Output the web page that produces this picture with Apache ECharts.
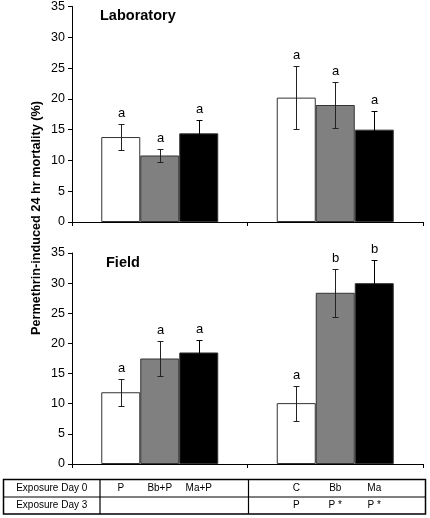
<!DOCTYPE html>
<html><head><meta charset="utf-8">
<script src="https://cdn.jsdelivr.net/npm/echarts@6/dist/echarts.min.js"></script>
<style>html,body{margin:0;padding:0;background:#fff}#c{width:430px;height:518px}</style>
</head><body><div id="c"></div>
<script>
var categories = ['Group 1', 'Group 2'];
var yTicks = [0, 5, 10, 15, 20, 25, 30, 35];
// Laboratory
var labWhite = [13.8, 20.2];
var labGray = [10.8, 19.0];
var labBlack = [14.4, 15.0];
var labWhiteErr = [2.1, 5.1];
var labGrayErr = [1.1, 3.7];
var labBlackErr = [2.2, 3.1];
var labWhiteLet = ['a', 'a'];
var labGrayLet = ['a', 'a'];
var labBlackLet = ['a', 'a'];
// Field
var fieldWhite = [11.9, 10.1];
var fieldGray = [17.5, 28.4];
var fieldBlack = [18.5, 30.0];
var fieldWhiteErr = [2.2, 2.9];
var fieldGrayErr = [2.9, 4.0];
var fieldBlackErr = [2.0, 3.8];
var fieldWhiteLet = ['a', 'a'];
var fieldGrayLet = ['a', 'b'];
var fieldBlackLet = ['a', 'b'];
// Table
var rowHeaders = ['Exposure Day 0', 'Exposure Day 3'];
var day0 = [['P', 'Bb+P', 'Ma+P'], ['C', 'Bb', 'Ma']];
var day3 = [['', '', ''], ['P', 'P *', 'P *']];
var panelTitles = ['Laboratory', 'Field'];
var yTitle = 'Permethrin-induced 24 hr mortality (%)';

var FONT = '"Liberation Sans", Arial, sans-serif';
var BW = 39;
var fills = ['#ffffff', '#808080', '#000000'];

var chart = echarts.init(document.getElementById('c'), null, {renderer: 'canvas'});

function barSeries(data, k, idx) {
  return {
    type: 'bar', xAxisIndex: idx, yAxisIndex: idx, data: data,
    barWidth: BW, barGap: '0%',
    itemStyle: {color: fills[k], borderColor: '#333', borderWidth: 1},
    silent: true, animation: false
  };
}
function errSeries(vals, errs, lets, k, idx) {
  var d = vals.map(function (v, i) { return [i, v, errs[i], lets[i]]; });
  return {
    type: 'custom', xAxisIndex: idx, yAxisIndex: idx, data: d, silent: true, animation: false,
    z: 5,
    renderItem: function (params, api) {
      var c = api.value(0), v = api.value(1), e = api.value(2);
      var hi = api.coord([c, v + e]);
      var lo = api.coord([c, v - e]);
      var x = Math.round(hi[0] + (k - 1) * BW) + 0.5;
      var yh = Math.round(hi[1]) + 0.5, yl = Math.round(lo[1]) + 0.5;
      var s = {stroke: k === 2 ? '#000' : '#222', lineWidth: 1};
      return {type: 'group', children: [
        {type: 'line', shape: {x1: x, y1: yh, x2: x, y2: yl}, style: s},
        {type: 'line', shape: {x1: x - 3, y1: yh, x2: x + 3, y2: yh}, style: s},
        {type: 'line', shape: {x1: x - 3, y1: yl, x2: x + 3, y2: yl}, style: s},
        {type: 'text', x: x, y: yh - 5, style: {text: lets[params.dataIndex], fill: '#000',
          font: '13px ' + FONT, align: 'center', verticalAlign: 'bottom'}}
      ]};
    }
  };
}

function xAx(idx) {
  return {type: 'category', gridIndex: idx, data: categories, boundaryGap: true,
    axisLine: {lineStyle: {color: '#000', width: 1}},
    axisTick: {show: true, length: 4, lineStyle: {color: '#000'}},
    axisLabel: {show: false}, splitLine: {show: false}};
}
function yAx(idx) {
  return {type: 'value', gridIndex: idx, min: yTicks[0], max: yTicks[yTicks.length - 1], interval: 5,
    axisLine: {show: true, lineStyle: {color: '#000', width: 1}},
    axisTick: {show: true, length: 4, lineStyle: {color: '#000'}},
    axisLabel: {color: '#000', fontSize: 12.5, fontFamily: FONT, margin: 7},
    splitLine: {show: false}};
}

chart.setOption({
  animation: false,
  backgroundColor: '#fff',
  grid: [
    {left: 72, right: 7, top: 6, height: 216},
    {left: 72, right: 7, top: 253, height: 211}
  ],
  xAxis: [xAx(0), xAx(1)],
  yAxis: [yAx(0), yAx(1)],
  series: [
    barSeries(labWhite, 0, 0), barSeries(labGray, 1, 0), barSeries(labBlack, 2, 0),
    barSeries(fieldWhite, 0, 1), barSeries(fieldGray, 1, 1), barSeries(fieldBlack, 2, 1),
    errSeries(labWhite, labWhiteErr, labWhiteLet, 0, 0),
    errSeries(labGray, labGrayErr, labGrayLet, 1, 0),
    errSeries(labBlack, labBlackErr, labBlackLet, 2, 0),
    errSeries(fieldWhite, fieldWhiteErr, fieldWhiteLet, 0, 1),
    errSeries(fieldGray, fieldGrayErr, fieldGrayLet, 1, 1),
    errSeries(fieldBlack, fieldBlackErr, fieldBlackLet, 2, 1)
  ]
});

// Build table & titles from axis positions
var g = [];
var tTop = 479.5, tMid = 497, tBot = 514, tLeft = 3.5, tRight = 425.5, tDiv = 100;
var midX = (chart.convertToPixel({xAxisIndex: 1}, 0) + chart.convertToPixel({xAxisIndex: 1}, 1)) / 2;
g.push({type: 'rect', shape: {x: tLeft, y: tTop, width: tRight - tLeft, height: tBot - tTop},
  style: {fill: 'none', stroke: '#000', lineWidth: 1.5}});
g.push({type: 'line', shape: {x1: tLeft, y1: tMid, x2: tRight, y2: tMid}, style: {stroke: '#000', lineWidth: 1.2}});
g.push({type: 'line', shape: {x1: tDiv, y1: tTop, x2: tDiv, y2: tBot}, style: {stroke: '#000', lineWidth: 1.2}});
g.push({type: 'line', shape: {x1: Math.round(midX) + 0.5, y1: tTop, x2: Math.round(midX) + 0.5, y2: tBot}, style: {stroke: '#000', lineWidth: 1.2}});
var rowY = [(tTop + tMid) / 2, (tMid + tBot) / 2];
rowHeaders.forEach(function (h, r) {
  g.push({type: 'text', x: (tLeft + tDiv) / 2, y: rowY[r], style: {text: h, font: '10px ' + FONT, fill: '#000', align: 'center', verticalAlign: 'middle'}});
});
[day0, day3].forEach(function (rows, r) {
  rows.forEach(function (cells, c) {
    var cx = chart.convertToPixel({xAxisIndex: 1}, c);
    cells.forEach(function (t, k) {
      if (!t) return;
      g.push({type: 'text', x: cx + (k - 1) * BW, y: rowY[r], style: {text: t, font: '10px ' + FONT, fill: '#000', align: 'center', verticalAlign: 'middle'}});
    });
  });
});
g.push({type: 'text', x: 100, y: 16, style: {text: panelTitles[0], font: 'bold 14.5px ' + FONT, fill: '#000', align: 'left', verticalAlign: 'middle'}});
g.push({type: 'text', x: 106, y: 263, style: {text: panelTitles[1], font: 'bold 14.5px ' + FONT, fill: '#000', align: 'left', verticalAlign: 'middle'}});
g.push({type: 'text', x: 36, y: 218, rotation: Math.PI / 2, style: {text: yTitle, font: 'bold 12.7px ' + FONT, fill: '#000', align: 'center', verticalAlign: 'middle'}});
chart.setOption({graphic: g});
</script></body></html>
